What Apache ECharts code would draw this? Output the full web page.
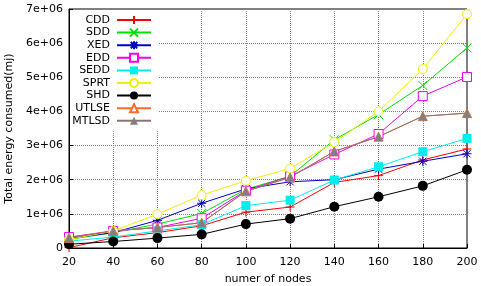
<!DOCTYPE html>
<html>
<head>
<meta charset="utf-8">
<script src="https://cdn.jsdelivr.net/npm/echarts@6/dist/echarts.min.js"></script>
<style>
  html, body { margin: 0; padding: 0; background: #fff; }
  #chart { width: 481px; height: 286px; }
</style>
</head>
<body>
<div id="chart"></div>
<script>
const nodes = [20, 40, 60, 80, 100, 120, 140, 160, 180, 200];

// values in units of 1e6 mJ
const cdd = [0.01, 0.3, 0.45, 0.65, 1.05, 1.2, 1.92, 2.12, 2.58, 2.9];
const sdd = [0.25, 0.45, 0.7, 1.01, 1.72, 2.1, 3.17, 3.91, 4.76, 5.86];
const xed = [0.28, 0.45, 0.81, 1.31, 1.73, 1.94, 2.0, 2.31, 2.54, 2.76];
const edd = [0.32, 0.5, 0.6, 0.87, 1.68, 2.1, 2.74, 3.34, 4.45, 5.01];
const sedd = [0.2, 0.32, 0.5, 0.68, 1.24, 1.4, 1.99, 2.38, 2.82, 3.21];
const sprt = [0.25, 0.5, 0.99, 1.55, 1.97, 2.33, 3.1, 4.0, 5.24, 6.85];
const shd = [0.11, 0.19, 0.29, 0.4, 0.7, 0.86, 1.21, 1.5, 1.82, 2.29];
const utlse = [0.3, 0.5, 0.6, 0.74, 1.66, 2.07, 2.83, 3.26, 3.86, 3.95];
const mtlsd = [0.3, 0.5, 0.6, 0.74, 1.66, 2.07, 2.83, 3.26, 3.86, 3.95];

const yTicks = ["0", "1e+06", "2e+06", "3e+06", "4e+06", "5e+06", "6e+06", "7e+06"];

const FONT = "DejaVu Sans";

const PLUS = "path://M0,-5L0,5M-5,0L5,0";
const CROSS = "path://M-5,-5L5,5M-5,5L5,-5";
const STAR = "path://M0,-5L0,5M-5,0L5,0M-4,-4L4,4M-4,4L4,-4";
const TRI = "path://M0,-5L5,4L-5,4Z";

function toPairs(vals) {
  return vals.map((v, i) => [nodes[i], v * 1e6]);
}

function makeSeries(name, vals, color, symbol, kind, size) {
  let itemStyle;
  if (kind === "stroke") {
    itemStyle = { color: "rgba(0,0,0,0)", borderColor: color, borderWidth: 1 };
  } else if (kind === "open") {
    itemStyle = { color: "#fff", borderColor: color, borderWidth: 1 };
  } else {
    itemStyle = { color: color, borderWidth: 0 };
  }
  return {
    name,
    type: "line",
    data: toPairs(vals),
    symbol,
    symbolSize: size,
    showAllSymbol: true,
    lineStyle: { color, width: 1 },
    itemStyle,
  };
}

const series = [
  makeSeries("CDD", cdd, "#ff0000", PLUS, "stroke", 9),
  makeSeries("SDD", sdd, "#00e000", CROSS, "stroke", 9),
  makeSeries("XED", xed, "#0000cc", STAR, "stroke", 9),
  makeSeries("EDD", edd, "#ee00ee", "rect", "open", 9),
  makeSeries("SEDD", sedd, "#00eeee", "rect", "fill", 9),
  makeSeries("SPRT", sprt, "#f0f000", "circle", "open", 9),
  makeSeries("SHD", shd, "#000000", "circle", "fill", 10),
  makeSeries("UTLSE", utlse, "#ff6a2a", TRI, "open", 9),
  makeSeries("MTLSD", mtlsd, "#808080", TRI, "fill", 9),
];
// brown-gray line for MTLSD as in the picture
series[8].lineStyle.color = "#8c7470";

const chart = echarts.init(document.getElementById("chart"));

chart.setOption({
  animation: false,
  backgroundColor: "#fff",
  textStyle: { fontFamily: FONT },
  grid: {
    left: 69,
    right: 14,
    top: 9,
    bottom: 38,
    outerBoundsMode: "none",
    containLabel: false,
    show: true,
    borderColor: "#000",
    borderWidth: 1,
    backgroundColor: "transparent",
  },
  legend: {
    orient: "vertical",
    left: 70,
    top: 11,
    padding: [3, 6, 3, 2],
    backgroundColor: "#fff",
    align: "right",
    itemWidth: 34,
    itemHeight: 10,
    itemGap: 0.6,
    formatter: "{a|{name}}",
    textStyle: {
      fontFamily: FONT,
      fontSize: 11,
      color: "#000",
      lineHeight: 12,
      rich: { a: { width: 38, align: "right", fontFamily: FONT, fontSize: 11, color: "#000", lineHeight: 12, padding: [0, 2, 0, 0] } },
    },
    data: series.map((s) => s.name),
  },
  xAxis: {
    type: "value",
    min: 20,
    max: 200,
    interval: 20,
    name: "numer of nodes",
    nameLocation: "middle",
    nameGap: 26,
    nameTextStyle: { fontFamily: FONT, fontSize: 11, color: "#000" },
    axisLine: { show: true, lineStyle: { color: "#000", width: 1 } },
    axisTick: { show: true, inside: true, length: 4, lineStyle: { color: "#000" } },
    axisLabel: { fontFamily: FONT, fontSize: 11, color: "#000", margin: 9 },
    splitLine: { show: true, lineStyle: { color: "#808080", type: [1, 1], width: 1 } },
  },
  yAxis: {
    type: "value",
    min: 0,
    max: 7e6,
    interval: 1e6,
    name: "Total energy consumed(mj)",
    nameLocation: "middle",
    nameGap: 53,
    nameRotate: 90,
    nameTextStyle: { fontFamily: FONT, fontSize: 11, color: "#000" },
    axisLine: { show: true, lineStyle: { color: "#000", width: 1 } },
    axisTick: { show: true, inside: true, length: 4, lineStyle: { color: "#000" } },
    axisLabel: {
      fontFamily: FONT,
      fontSize: 11,
      color: "#000",
      margin: 6,
      formatter: (v) => yTicks[Math.round(v / 1e6)],
    },
    splitLine: { show: true, lineStyle: { color: "#808080", type: [1, 1], width: 1 } },
  },
  series,
});
</script>
</body>
</html>
